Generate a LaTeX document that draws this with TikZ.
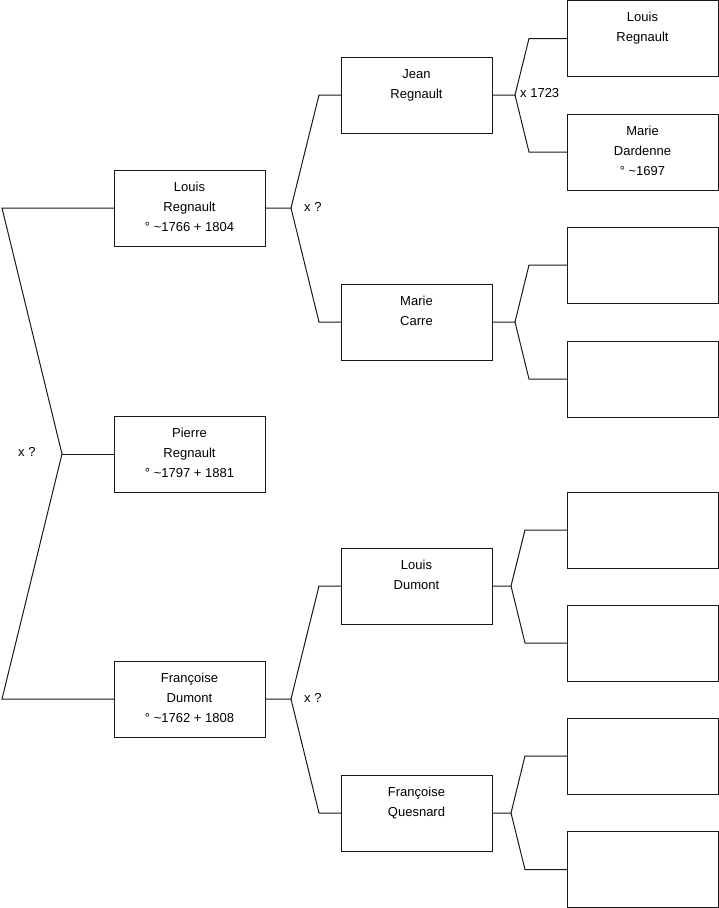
\documentclass[tikz,border=0pt]{standalone}
\usepackage{fontspec}
\setmainfont{Liberation Sans}
\usetikzlibrary{calc}
\newcommand{\pcontent}[1]{\begin{minipage}[t][76pt][t]{151pt}\centering\fontsize{13pt}{20pt}\selectfont\rule{0pt}{21pt}#1\par\end{minipage}}
\tikzset{
  person/.style={draw=black!90, line width=1pt, inner sep=0pt, outer sep=0pt, anchor=north west, text=black},
  link/.style={draw=black!90, line width=1pt},
  lbl/.style={inner sep=0pt, anchor=west, font=\fontsize{13pt}{15pt}\selectfont, text=black}
}
\begin{document}
\begin{tikzpicture}
\useasboundingbox (0,0) rectangle (719pt,-908pt);
% generation 1 and 2
\node[person] (L1) at (114pt,-170pt) {\pcontent{Louis\\Regnault\\° \textasciitilde1766 + 1804}};
\node[person] (P)  at (114pt,-416pt) {\pcontent{Pierre\\Regnault\\° \textasciitilde1797 + 1881}};
\node[person] (FD) at (114pt,-661pt) {\pcontent{Françoise\\Dumont\\° \textasciitilde1762 + 1808}};
% generation 3
\node[person] (J)  at (341pt,-57pt)  {\pcontent{Jean\\Regnault}};
\node[person] (MC) at (341pt,-284pt) {\pcontent{Marie\\Carre}};
\node[person] (LD) at (341pt,-548pt) {\pcontent{Louis\\Dumont}};
\node[person] (FQ) at (341pt,-775pt) {\pcontent{Françoise\\Quesnard}};
% generation 4
\node[person] (G1) at (567pt,-0.5pt) {\pcontent{Louis\\Regnault}};
\node[person] (G2) at (567pt,-114pt) {\pcontent{Marie\\Dardenne\\° \textasciitilde1697}};
\node[person] (G3) at (567pt,-227pt) {\pcontent{}};
\node[person] (G4) at (567pt,-341pt) {\pcontent{}};
\node[person] (G5) at (567pt,-492pt) {\pcontent{}};
\node[person] (G6) at (567pt,-605pt) {\pcontent{}};
\node[person] (G7) at (567pt,-718pt) {\pcontent{}};
\node[person] (G8) at (567pt,-831.5pt) {\pcontent{}};
% junctions
\coordinate (jP) at (62pt,-454pt);
\coordinate (jL1) at ($(L1.east)+(26pt,0)$);
\coordinate (jFD) at ($(FD.east)+(26pt,0)$);
\coordinate (jJ) at ($(J.east)+(23pt,0)$);
\coordinate (jMC) at ($(MC.east)+(23pt,0)$);
\coordinate (jLD) at ($(LD.east)+(19pt,0)$);
\coordinate (jFQ) at ($(FQ.east)+(19pt,0)$);
% connectors
\draw[link] (L1.west) -- ([xshift=-112pt]L1.west) -- (jP) -- ([xshift=-112pt]FD.west) -- (FD.west);
\draw[link] (jP) -- (P.west);
\draw[link] (L1.east) -- (jL1) -- ([xshift=-22pt]J.west) -- (J.west);
\draw[link] (jL1) -- ([xshift=-22pt]MC.west) -- (MC.west);
\draw[link] (FD.east) -- (jFD) -- ([xshift=-22pt]LD.west) -- (LD.west);
\draw[link] (jFD) -- ([xshift=-22pt]FQ.west) -- (FQ.west);
\draw[link] (J.east) -- (jJ) -- ([xshift=-38pt]G1.west) -- (G1.west);
\draw[link] (jJ) -- ([xshift=-38pt]G2.west) -- (G2.west);
\draw[link] (MC.east) -- (jMC) -- ([xshift=-38pt]G3.west) -- (G3.west);
\draw[link] (jMC) -- ([xshift=-38pt]G4.west) -- (G4.west);
\draw[link] (LD.east) -- (jLD) -- ([xshift=-42pt]G5.west) -- (G5.west);
\draw[link] (jLD) -- ([xshift=-42pt]G6.west) -- (G6.west);
\draw[link] (FQ.east) -- (jFQ) -- ([xshift=-42pt]G7.west) -- (G7.west);
\draw[link] (jFQ) -- ([xshift=-42pt]G8.west) -- (G8.west);
% marriage labels
\node[lbl] (m0) at (18pt,-452pt) {x ?};
\node[lbl] (m1) at ([xshift=13pt,yshift=1pt]jL1) {x ?};
\node[lbl] (m2) at ([xshift=13pt,yshift=1pt]jFD) {x ?};
\node[lbl] (m3) at ([xshift=5pt,yshift=2pt]jJ) {x 1723};
\end{tikzpicture}
\end{document}
